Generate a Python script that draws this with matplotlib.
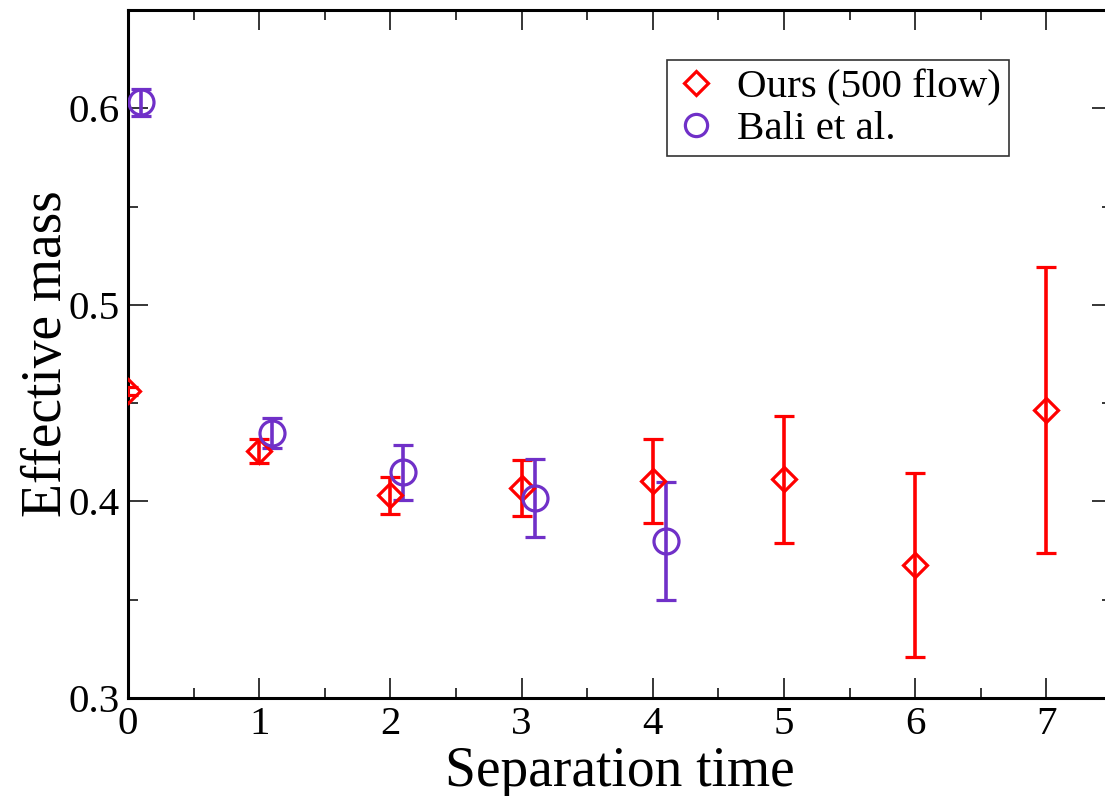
import numpy as np
import matplotlib
matplotlib.use("Agg")
import matplotlib.pyplot as plt
from matplotlib.lines import Line2D
from matplotlib.ticker import MultipleLocator

# --- veri ---
ours_x = [0, 1, 2, 3, 4, 5, 6, 7]
ours_y = [0.456, 0.4256, 0.4032, 0.4068, 0.4103, 0.4113, 0.3676, 0.4464]
ours_err = [0.002, 0.006, 0.0094, 0.0142, 0.0213, 0.0323, 0.0468, 0.0727]

bali_x = [0.1, 1.1, 2.1, 3.1, 4.1]
bali_y = [0.603, 0.4347, 0.4149, 0.4017, 0.3798]
bali_err = [0.007, 0.0076, 0.014, 0.0198, 0.030]

kirmizi = '#ff0000'
mor = '#7030c8'

plt.rcParams['font.family'] = ['Liberation Serif', 'DejaVu Serif']

fig = plt.figure(figsize=(11.05, 7.96), dpi=100)
ax = fig.add_axes([0.1158, 0.1231, 0.8905, 0.8643])

ax.errorbar(ours_x, ours_y, yerr=ours_err, fmt='D', color=kirmizi,
            mfc='none', mec=kirmizi, ms=12.5, mew=2.3, elinewidth=2.6,
            capsize=7, capthick=2.6, zorder=3)
ax.errorbar(bali_x, bali_y, yerr=bali_err, fmt='o', color=mor,
            mfc='none', mec=mor, ms=18, mew=2.3, elinewidth=2.6,
            capsize=7, capthick=2.6, zorder=3)

ax.set_xlim(0, 7.5)
ax.set_ylim(0.3, 0.65)
ax.xaxis.set_minor_locator(MultipleLocator(0.5))
ax.yaxis.set_minor_locator(MultipleLocator(0.05))
ax.set_xticks([0, 1, 2, 3, 4, 5, 6, 7])
ax.set_yticks([0.3, 0.4, 0.5, 0.6])
ax.set_yticklabels(['0.3', '0.4', '0.5', '0.6'])

ax.tick_params(which='both', direction='in', top=True, right=True,
               labelsize=29.5, width=1.1)
ax.tick_params(which='major', length=14.4, pad=6)
ax.tick_params(which='minor', length=7.2)
for s in ax.spines.values():
    s.set_linewidth(2.2)

ax.set_xlabel('Separation time', fontsize=40, labelpad=2)
ax.set_ylabel('Effective mass', fontsize=40, labelpad=-3)

# lejant: sadece işaretler
h1 = Line2D([], [], ls='none', marker='D', ms=12.5, mfc='none', mec=kirmizi, mew=2.3)
h2 = Line2D([], [], ls='none', marker='o', ms=16, mfc='none', mec=mor, mew=2.3)
leg = ax.legend([h1, h2], ['Ours (500 flow)', 'Bali et al.'],
                loc='upper left', bbox_to_anchor=(0.5483, 0.927),
                fontsize=29.5, frameon=True, fancybox=False,
                handlelength=1.0, handletextpad=0.5, borderpad=0.2,
                labelspacing=0.1, borderaxespad=0.0)
leg.get_frame().set_edgecolor('black')
leg.get_frame().set_linewidth(1.2)

fig.savefig('out.png', dpi=100)
